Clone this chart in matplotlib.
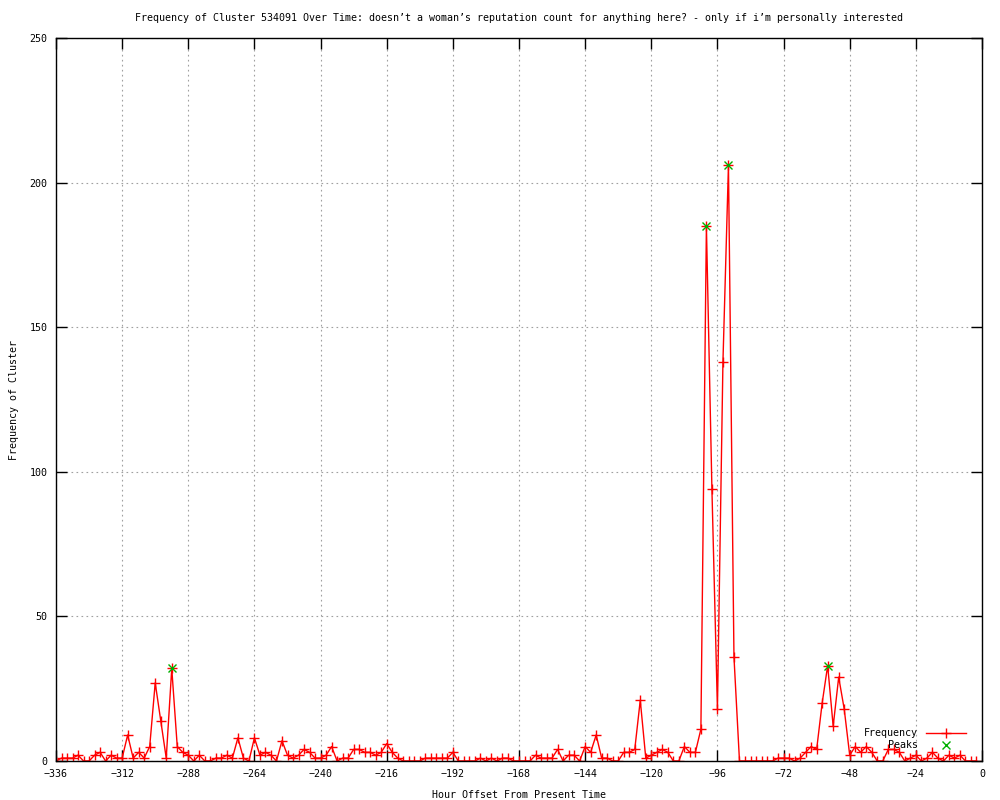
import numpy as np
import matplotlib
matplotlib.use("Agg")
import matplotlib.pyplot as plt

# 2-hour bins, -336 .. -2
hours = np.arange(-336, 0, 2)
freq = [
    0, 1, 1, 1, 2, 0, 0, 2, 3, 0,      # -336 .. -318
    2, 1, 1, 9, 1, 3, 1, 5, 27, 14,    # -316 .. -298
    1, 32, 5, 3, 2, 0, 2, 0, 0, 1,     # -296 .. -278
    1, 2, 1, 8, 1, 0, 8, 2, 3, 2,      # -276 .. -258
    0, 7, 2, 1, 2, 4, 3, 1, 1, 2,      # -256 .. -238
    5, 0, 1, 1, 4, 4, 3, 3, 2, 3,      # -236 .. -218
    6, 3, 1, 0, 0, 0, 0, 1, 1, 1,      # -216 .. -198
    1, 1, 3, 0, 0, 0, 0, 1, 0, 1,      # -196 .. -178
    0, 1, 1, 0, 0, 0, 0, 2, 1, 1,      # -176 .. -158
    1, 4, 0, 2, 2, 0, 5, 3, 9, 1,      # -156 .. -138
    1, 0, 0, 3, 3, 4, 21, 1, 2, 3,     # -136 .. -118
    4, 3, 0, 0, 5, 3, 3, 11, 185, 94,  # -116 .. -98
    18, 138, 206, 36, 0, 0, 0, 0, 0, 0,  # -96 .. -78
    0, 1, 1, 1, 0, 1, 3, 5, 4, 20,     # -76 .. -58
    33, 12, 29, 18, 2, 5, 3, 5, 3, 0,  # -56 .. -38
    0, 4, 4, 3, 0, 1, 2, 0, 1, 3,      # -36 .. -18
    1, 0, 2, 1, 2, 0, 0, 0,            # -16 .. -2
]
assert len(freq) == len(hours)

peak_hours = [-294, -100, -92, -56]
peak_vals = [32, 185, 206, 33]

plt.rcParams['font.family'] = ['DejaVu Sans Mono']
plt.rcParams['font.size'] = 7.2

fig = plt.figure(figsize=(10, 8), dpi=100)
ax = fig.add_axes([0.056, 0.04875, 0.926, 0.90375])

ax.plot(hours, freq, color='red', lw=1, marker='+', ms=6.5, mew=1, label='Frequency')
ax.plot(peak_hours, peak_vals, ls='none', color='#00b000', marker='x', ms=6, mew=1, label='Peaks')

ax.set_xlim(-336, 0)
ax.set_ylim(0, 250)
ax.set_xticks(np.arange(-336, 1, 24))
ax.set_yticks(np.arange(0, 251, 50))
ax.grid(True, color='#a0a0a0', linestyle=(0, (1.5, 3)), lw=0.8)
ax.tick_params(direction='in', length=8, width=1, top=True, right=True, labelsize=7.2, pad=6)
for s in ax.spines.values():
    s.set_linewidth(1)

ax.set_title("Frequency of Cluster 534091 Over Time: doesn\u2019t a woman\u2019s reputation count for anything here? - only if i\u2019m personally interested",
             fontsize=7.2, pad=12)
ax.set_xlabel('Hour Offset From Present Time', fontsize=7.2, labelpad=8)
ax.set_ylabel('Frequency of Cluster', fontsize=7.2, labelpad=8)

ax.legend(loc='lower right', bbox_to_anchor=(0.99, 0.005), frameon=False, fontsize=7.2,
          handlelength=4, markerfirst=False, labelspacing=0.2, borderaxespad=0.3)

fig.savefig('out.png', dpi=100)
